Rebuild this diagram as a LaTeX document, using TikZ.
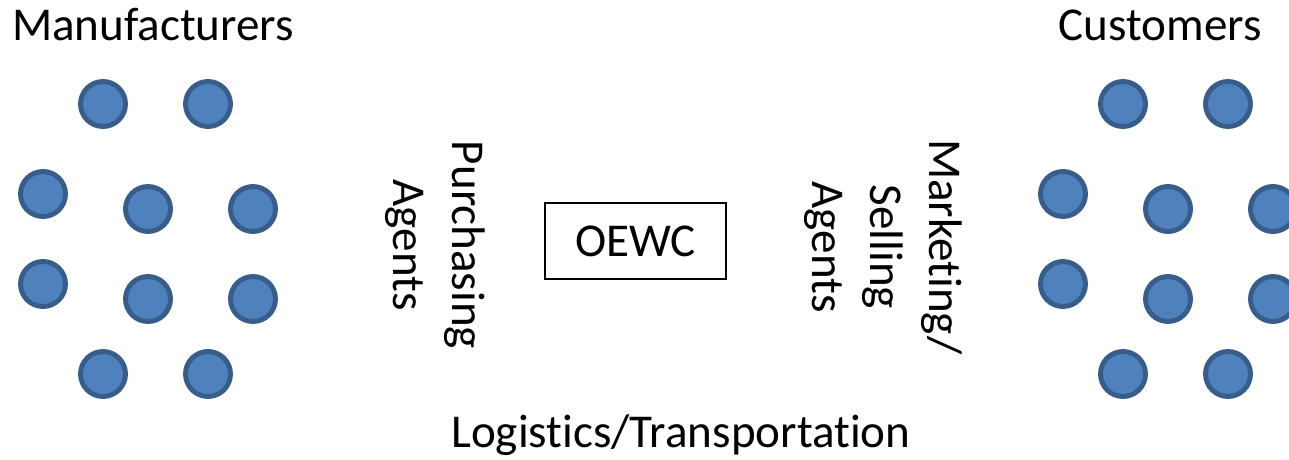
\documentclass[tikz,border=0pt]{standalone}
\usepackage{fontspec}
\setmainfont{Carlito}[RawFeature={-liga}]
\definecolor{dotfill}{HTML}{4F81BD}
\definecolor{dotline}{HTML}{385D8A}
\tikzset{
    party/.style={circle, fill=dotfill, draw=dotline, line width=2.8pt,
        minimum size=0.9cm, inner sep=0pt},
    big/.style={font=\fontsize{26.8}{33.4}\selectfont},
}
\begin{document}
\begin{tikzpicture}[x=0.02cm, y=-0.02cm]
    \clip (0, 0) rectangle (1289, 460);

    \node[big, anchor=base] (manuf) at (153, 40) {Manufacturers};
    \node[party] (m1) at (103, 104) {};
    \node[party] (m2) at (208, 104) {};
    \node[party] (m3) at (43, 194) {};
    \node[party] (m4) at (148, 209) {};
    \node[party] (m5) at (253, 209) {};
    \node[party] (m6) at (43, 284) {};
    \node[party] (m7) at (148, 299) {};
    \node[party] (m8) at (253, 299) {};
    \node[party] (m9) at (103, 374) {};
    \node[party] (m10) at (208, 374) {};

    \node[big, anchor=base] (cust) at (1160, 40) {Customers};
    \node[party] (c1) at (1123, 104) {};
    \node[party] (c2) at (1228, 104) {};
    \node[party] (c3) at (1063, 194) {};
    \node[party] (c4) at (1168, 209) {};
    \node[party] (c5) at (1273, 209) {};
    \node[party] (c6) at (1063, 284) {};
    \node[party] (c7) at (1168, 299) {};
    \node[party] (c8) at (1273, 299) {};
    \node[party] (c9) at (1123, 374) {};
    \node[party] (c10) at (1228, 374) {};

    \node[big, rotate=-90, align=center] (purch) at (435, 245) {Purchasing\\Agents};
    \node[big, draw, line width=1pt, minimum width=3.62cm, minimum height=1.52cm]
        (oewc) at (635.5, 241) {OEWC};
    \node[big, rotate=-90, align=center] (sell) at (883, 247) {Marketing/\\Selling\\Agents};

    \node[big, anchor=base] (logis) at (681, 447) {Logistics/Transportation};
\end{tikzpicture}
\end{document}
